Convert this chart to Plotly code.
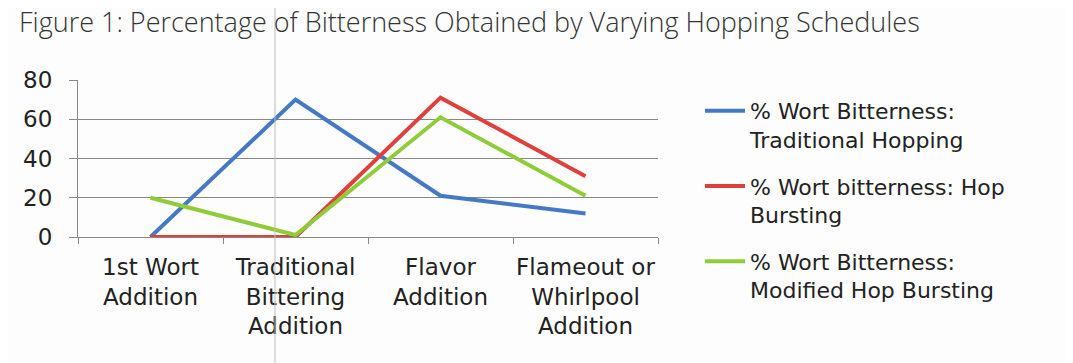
import plotly.graph_objects as go

categories = ["1st Wort<br>Addition", "Traditional<br>Bittering<br>Addition",
              "Flavor<br>Addition", "Flameout or<br>Whirlpool<br>Addition"]
traditional = [0, 70, 21, 12]
hop_bursting = [0, 0, 71, 31]
modified = [20, 1, 61, 21]
names = ["% Wort Bitterness:<br>Traditional Hopping",
         "% Wort bitterness: Hop<br>Bursting",
         "% Wort Bitterness:<br>Modified Hop Bursting"]
colors = ["#4479c4", "#e0403c", "#8fcc3a"]
y_ticks = [0, 20, 40, 60, 80]

fig = go.Figure()
for i, (vals, name, col) in enumerate(zip([traditional, hop_bursting, modified], names, colors)):
    fig.add_trace(go.Scatter(x=categories, y=vals, mode="lines", name=name,
                             legendgroup=f"g{i}",
                             line=dict(color=col, width=4)))

font = "DejaVu Sans"
OFF = 8  # page body margin shifts everything right/down
fig.update_layout(
    width=1073, height=363,
    margin=dict(l=78 - OFF, r=1073 - 658 + OFF, t=80 - OFF, b=363 - 237 + OFF),
    paper_bgcolor="#fdfdfd", plot_bgcolor="#fdfdfd",
    title=dict(text="Figure 1: Percentage of Bitterness Obtained by Varying Hopping Schedules",
               x=(19 - OFF) / 1073, xanchor="left", y=1 - (23 - OFF) / 363, yanchor="middle",
               font=dict(family="Open Sans", size=27, color="#333333", weight=300)),
    font=dict(family=font, size=23, color="#222222"),
    showlegend=True,
    legend=dict(x=(700 - OFF) / 1073, xref="container", y=1 - (90 - OFF) / 363, yref="container",
                xanchor="left", yanchor="top", valign="top", maxheight=340,
                font=dict(family=font, size=22, color="#222222"),
                tracegroupgap=15, itemwidth=40, bgcolor="rgba(0,0,0,0)"),
    xaxis=dict(type="category", range=[-0.5, 3.5], tickson="boundaries",
               ticks="outside", ticklen=6, tickcolor="#888888",
               showline=True, linecolor="#888888", linewidth=1,
               showgrid=False, ticklabelstandoff=9, tickangle=0, automargin=False,
               tickfont=dict(family=font, size=23)),
    yaxis=dict(range=[0, 80], tickvals=y_ticks, ticks="outside", ticklen=8,
               tickcolor="#888888", showline=True, linecolor="#888888", automargin=False,
               showgrid=True, gridcolor="#888888", gridwidth=1, zeroline=False,
               ticklabelstandoff=12, tickfont=dict(family=font, size=23)),
)
fig.add_shape(type="line", xref="paper", yref="paper",
              x0=(275 - 78) / 580, x1=(275 - 78) / 580, y0=-0.8, y1=1.51,
              line=dict(color="#bbbbbb", width=1))
fig.write_html("out.html")
